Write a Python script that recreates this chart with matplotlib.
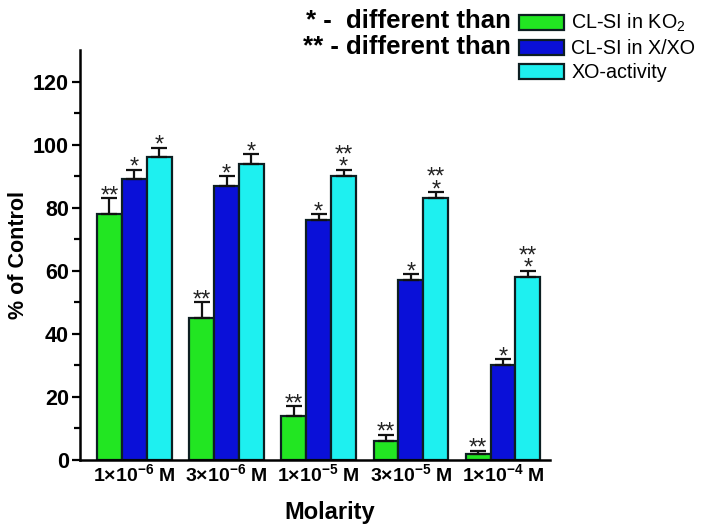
import matplotlib
matplotlib.use("Agg")
import matplotlib.pyplot as plt
import numpy as np

plt.rcParams['font.family'] = ['Liberation Sans', 'DejaVu Sans']
plt.rcParams['mathtext.fontset'] = 'custom'
plt.rcParams['mathtext.rm'] = 'Liberation Sans'
plt.rcParams['mathtext.bf'] = 'Liberation Sans:bold'
plt.rcParams['mathtext.default'] = 'rm'

categories = [r"1×10$^{\mathbf{-6}}$ M", r"3×10$^{\mathbf{-6}}$ M", r"1×10$^{\mathbf{-5}}$ M",
              r"3×10$^{\mathbf{-5}}$ M", r"1×10$^{\mathbf{-4}}$ M"]
series_names = [r"CL-SI in KO$_2$", "CL-SI in X/XO", "XO-activity"]
ko2 = [78, 45, 14, 6, 2]
ko2_err = [5, 5, 3, 2, 1]
xxo = [89, 87, 76, 57, 30]
xxo_err = [3, 3, 2, 2, 2]
xoact = [96, 94, 90, 83, 58]
xoact_err = [3, 3, 2, 2, 2]
ko2_marks = ["**", "**", "**", "**", "**"]
xxo_marks = ["*", "*", "*", "*", "*"]
xoact_marks = ["*", "*", "**\n*", "**\n*", "**\n*"]
colors = ["#22e622", "#0a10d8", "#1ef0f0"]

W, H = 709, 527
fig = plt.figure(figsize=(W / 100, H / 100), dpi=100)
ax = fig.add_axes([80 / W, 1 - 460 / H, (550 - 80) / W, (460 - 50) / H])

x = np.arange(len(categories))
bw = 0.27
data = [(ko2, ko2_err, ko2_marks), (xxo, xxo_err, xxo_marks), (xoact, xoact_err, xoact_marks)]
handles = []
for i, (vals, errs, marks) in enumerate(data):
    pos = x + (i - 1) * bw
    b = ax.bar(pos, vals, bw, color=colors[i], edgecolor="#0d1f22", linewidth=1.6,
               label=series_names[i], zorder=2)
    handles.append(b)
    ax.errorbar(pos, vals, yerr=[np.zeros(len(vals)), errs], fmt='none', ecolor='#111111',
                elinewidth=1.6, capsize=5.5, capthick=1.6, zorder=3)
    for p, v, e, m in zip(pos, vals, errs, marks):
        ax.annotate(m, (p, v + e), xytext=(0, -3), textcoords='offset points',
                    ha='center', va='baseline', multialignment='center',
                    fontsize=17, linespacing=0.45, color='#222222')

ax.set_xlim(-0.59, 4.51)
ax.set_ylim(0, 130)
ax.set_yticks([0, 20, 40, 60, 80, 100, 120])
ax.set_yticks(np.arange(10, 130, 20), minor=True)
ax.set_xticks(x)
ax.set_xticklabels(categories, fontsize=14, fontweight='bold')
ax.tick_params(axis='x', length=0, pad=2)
ax.tick_params(axis='y', which='major', length=6, width=1.6, labelsize=15.5, direction='out', pad=2)
ax.tick_params(axis='y', which='minor', length=4, width=1.6, direction='out')
for lbl in ax.get_yticklabels():
    lbl.set_fontweight('bold')
for s in ['top', 'right']:
    ax.spines[s].set_visible(False)
for s in ['left', 'bottom']:
    ax.spines[s].set_linewidth(1.8)

ax.set_ylabel("% of Control", fontsize=15.5, fontweight='bold', labelpad=3)
fig.text(330 / W, 1 - 512 / H, "Molarity", fontsize=17, fontweight='bold',
         ha='center', va='center')

leg = fig.legend(handles=handles, loc='upper left', bbox_to_anchor=(519 / W, 1 - 12 / H),
                 frameon=False, fontsize=14.2, handlelength=2.3, handleheight=0.8,
                 handletextpad=0.35, labelspacing=0.25, borderpad=0, borderaxespad=0)

fig.text(511 / W, 1 - 21 / H, "* -  different than", fontsize=18.5, fontweight='bold',
         ha='right', va='center')
fig.text(511 / W, 1 - 47 / H, "** - different than", fontsize=18.5, fontweight='bold',
         ha='right', va='center')

fig.savefig("out.png", dpi=100)
